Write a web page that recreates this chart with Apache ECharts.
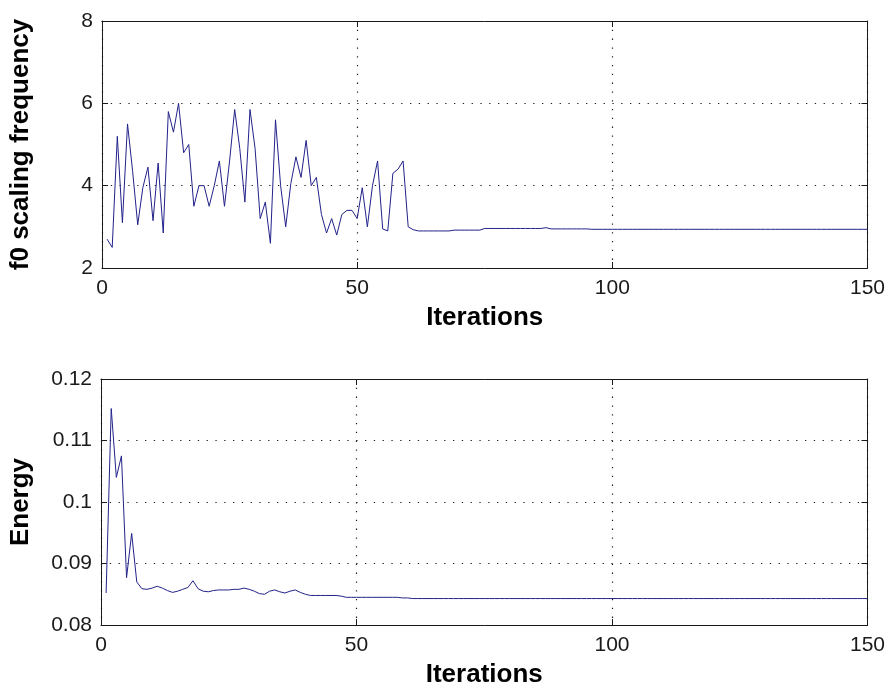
<!DOCTYPE html>
<html>
<head>
<meta charset="utf-8">
<script src="https://cdn.jsdelivr.net/npm/echarts@6/dist/echarts.min.js"></script>
<style>
  html, body { margin: 0; padding: 0; background: #ffffff; }
  #chart { width: 888px; height: 695px; }
</style>
</head>
<body>
<div id="chart"></div>
<script>
// Tick values for the shared iteration axis and both value axes
const iterTicks = [0, 50, 100, 150];
const freqTicks = [2, 4, 6, 8];
const energyTicks = [0.08, 0.09, 0.10, 0.11, 0.12];

// f0 scaling frequency per iteration (iterations 1..150)
const f0Scaling = [
  2.70, 2.50, 5.20, 3.10, 5.50, 4.35, 3.05, 3.95, 4.45, 3.15,
  4.55, 2.85, 5.80, 5.30, 6.00, 4.80, 5.00, 3.50, 4.00, 4.00,
  3.50, 4.00, 4.60, 3.50, 4.60, 5.85, 4.90, 3.60, 5.85, 4.90,
  3.20, 3.60, 2.60, 5.60, 4.00, 3.00, 4.05, 4.70, 4.20, 5.10,
  4.00, 4.20, 3.30, 2.85, 3.20, 2.80, 3.30, 3.40, 3.40, 3.20,
  3.95, 3.00, 4.00, 4.60, 2.95, 2.90, 4.30, 4.40, 4.60, 3.00,
  2.93, 2.90, 2.90, 2.90, 2.90, 2.90, 2.90, 2.90, 2.92, 2.92,
  2.92, 2.92, 2.92, 2.92, 2.96, 2.96, 2.96, 2.96, 2.96, 2.96,
  2.96, 2.96, 2.96, 2.96, 2.96, 2.96, 2.98, 2.95, 2.95, 2.95,
  2.95, 2.95, 2.95, 2.95, 2.95, 2.94, 2.94, 2.94, 2.94, 2.94,
  2.94, 2.94, 2.94, 2.94, 2.94, 2.94, 2.94, 2.94, 2.94, 2.94,
  2.94, 2.94, 2.94, 2.94, 2.94, 2.94, 2.94, 2.94, 2.94, 2.94,
  2.94, 2.94, 2.94, 2.94, 2.94, 2.94, 2.94, 2.94, 2.94, 2.94,
  2.94, 2.94, 2.94, 2.94, 2.94, 2.94, 2.94, 2.94, 2.94, 2.94,
  2.94, 2.94, 2.94, 2.94, 2.94, 2.94, 2.94, 2.94, 2.94, 2.94
];

// Energy per iteration (iterations 1..150)
const energy = [
  0.0852, 0.1152, 0.1040, 0.1075, 0.0877, 0.0949, 0.0870, 0.0859, 0.0858, 0.0860,
  0.0863, 0.0860, 0.0856, 0.0853, 0.0855, 0.0858, 0.0861, 0.0872, 0.0859, 0.0855,
  0.0854, 0.0856, 0.0857, 0.0857, 0.0857, 0.0858, 0.0858, 0.0860, 0.0858, 0.0855,
  0.0851, 0.0850, 0.0855, 0.0857, 0.0854, 0.0852, 0.0855, 0.0857, 0.0853, 0.0850,
  0.0848, 0.0848, 0.0848, 0.0848, 0.0848, 0.0848, 0.0847, 0.0845, 0.0845, 0.0845,
  0.0845, 0.0845, 0.0845, 0.0845, 0.0845, 0.0845, 0.0845, 0.0845, 0.0844, 0.0844,
  0.0843, 0.0843, 0.0843, 0.0843, 0.0843, 0.0843, 0.0843, 0.0843, 0.0843, 0.0843,
  0.0843, 0.0843, 0.0843, 0.0843, 0.0843, 0.0843, 0.0843, 0.0843, 0.0843, 0.0843,
  0.0843, 0.0843, 0.0843, 0.0843, 0.0843, 0.0843, 0.0843, 0.0843, 0.0843, 0.0843,
  0.0843, 0.0843, 0.0843, 0.0843, 0.0843, 0.0843, 0.0843, 0.0843, 0.0843, 0.0843,
  0.0843, 0.0843, 0.0843, 0.0843, 0.0843, 0.0843, 0.0843, 0.0843, 0.0843, 0.0843,
  0.0843, 0.0843, 0.0843, 0.0843, 0.0843, 0.0843, 0.0843, 0.0843, 0.0843, 0.0843,
  0.0843, 0.0843, 0.0843, 0.0843, 0.0843, 0.0843, 0.0843, 0.0843, 0.0843, 0.0843,
  0.0843, 0.0843, 0.0843, 0.0843, 0.0843, 0.0843, 0.0843, 0.0843, 0.0843, 0.0843,
  0.0843, 0.0843, 0.0843, 0.0843, 0.0843, 0.0843, 0.0843, 0.0843, 0.0843, 0.0843
];

const FONT = 'Liberation Sans';
const INK = '#1a1a1a';
const LINE_BLUE = '#22228a';
const dotted = { color: '#1e1e1e', width: 1.2, type: [1.3, 7.5] };

function pairs(values) {
  return values.map((v, i) => [i + 1, v]);
}

function range(ticks) {
  return { min: ticks[0], max: ticks[ticks.length - 1], interval: ticks[1] - ticks[0] };
}

// Boxed axes: labelled bottom/left axes with dotted grid, mirrored top/right axes carrying inward ticks
function boxX(gridIndex) {
  const r = range(iterTicks);
  return [
    Object.assign({
      type: 'value', gridIndex, position: 'bottom',
      axisLine: { show: true, onZero: false, lineStyle: { color: INK, width: 1 } },
      axisTick: { show: true, inside: true, length: 6, lineStyle: { color: INK } },
      axisLabel: { color: INK, fontFamily: FONT, fontSize: 21, margin: 10 },
      splitLine: { show: true, lineStyle: dotted },
      name: 'Iterations', nameLocation: 'middle', nameGap: 37,
      nameTextStyle: { fontFamily: FONT, fontWeight: 'bold', fontSize: 26, color: '#000' }
    }, r),
    Object.assign({
      type: 'value', gridIndex, position: 'top',
      axisLine: { show: true, onZero: false, lineStyle: { color: INK, width: 1 } },
      axisTick: { show: true, inside: true, length: 6, lineStyle: { color: INK } },
      axisLabel: { show: false }, splitLine: { show: false }
    }, r)
  ];
}

function boxY(gridIndex, ticks, title, fmt, gap) {
  const r = range(ticks);
  return [
    Object.assign({
      type: 'value', gridIndex, position: 'left',
      axisLine: { show: true, onZero: false, lineStyle: { color: INK, width: 1 } },
      axisTick: { show: true, inside: true, length: 6, lineStyle: { color: INK } },
      axisLabel: { color: INK, fontFamily: FONT, fontSize: 21, margin: 9, formatter: fmt },
      splitLine: { show: true, lineStyle: dotted },
      name: title, nameLocation: 'middle', nameGap: gap, nameRotate: 90,
      nameTextStyle: { fontFamily: FONT, fontWeight: 'bold', fontSize: 26, color: '#000' }
    }, r),
    Object.assign({
      type: 'value', gridIndex, position: 'right',
      axisLine: { show: true, onZero: false, lineStyle: { color: INK, width: 1 } },
      axisTick: { show: true, inside: true, length: 6, lineStyle: { color: INK } },
      axisLabel: { show: false }, splitLine: { show: false }
    }, r)
  ];
}

const chart = echarts.init(document.getElementById('chart'), null, { renderer: 'canvas' });

chart.setOption({
  animation: false,
  backgroundColor: '#ffffff',
  grid: [
    { left: 101, top: 21, width: 769, height: 247 },
    { left: 101, top: 379, width: 769, height: 246 }
  ],
  xAxis: [].concat(boxX(0), boxX(1)),
  yAxis: [].concat(
    boxY(0, freqTicks, 'f0 scaling frequency', v => String(v), 68),
    boxY(1, energyTicks, 'Energy', v => String(+v.toFixed(2)), 67)
  ),
  series: [
    {
      type: 'line', xAxisIndex: 0, yAxisIndex: 0,
      data: pairs(f0Scaling), showSymbol: false,
      lineStyle: { color: LINE_BLUE, width: 1 }
    },
    {
      type: 'line', xAxisIndex: 2, yAxisIndex: 2,
      data: pairs(energy), showSymbol: false,
      lineStyle: { color: LINE_BLUE, width: 1 }
    }
  ]
});
</script>
</body>
</html>
